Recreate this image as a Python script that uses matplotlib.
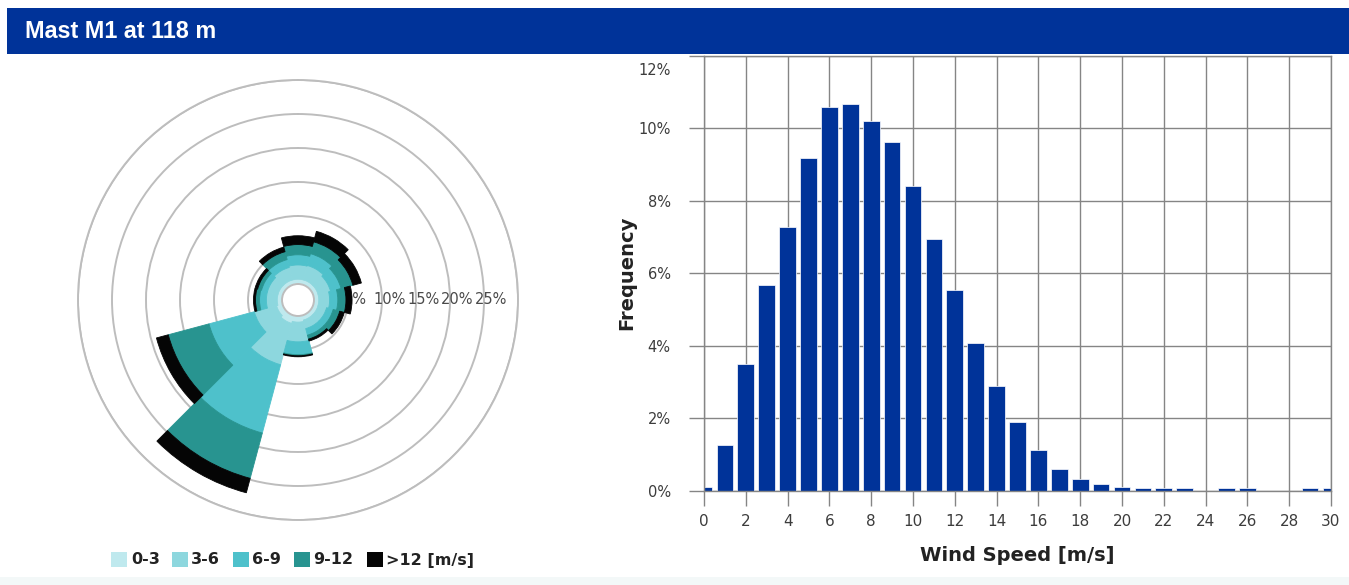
import numpy as np
import matplotlib
matplotlib.use("Agg")
import matplotlib.pyplot as plt
from matplotlib.patches import Rectangle
from matplotlib.transforms import ScaledTranslation
from matplotlib import font_manager

# ---------------- data ----------------
title = "Mast M1 at 118 m"
directions = [0, 30, 60, 90, 120, 150, 180, 210, 240, 270, 300, 330]
speed_bins = ["0-3", "3-6", "6-9", "9-12", ">12 [m/s]"]
rose_0_3 = [0.7, 0.7, 0.7, 0.7, 0.7, 0.7, 0.9, 1.2, 0.9, 0.7, 0.7, 0.7]
rose_3_6 = [2.1, 2.2, 1.9, 1.6, 1.3, 1.3, 2.9, 6.3, 3.4, 1.6, 1.6, 1.9]
rose_6_9 = [1.5, 1.8, 1.6, 1.2, 1.0, 1.0, 1.9, 10.4, 6.9, 1.0, 0.9, 1.2]
rose_9_12 = [1.5, 1.8, 1.8, 1.2, 1.0, 0.6, 0.15, 6.9, 6.2, 0.6, 0.6, 1.2]
rose_gt12 = [1.3, 1.6, 1.3, 0.9, 0.7, 0.3, 0.15, 2.2, 1.8, 0.3, 0.4, 0.7]
rose_rings = [5, 10, 15, 20, 25]

wind_speed = list(range(0, 31))
frequency = [0.1, 1.25, 3.5, 5.67, 7.28, 9.17, 10.58, 10.66, 10.21, 9.63,
             8.41, 6.94, 5.55, 4.07, 2.89, 1.89, 1.12, 0.6, 0.32, 0.18,
             0.1, 0.08, 0.08, 0.08, 0.0, 0.08, 0.08, 0.0, 0.0, 0.08, 0.08]
x_ticks = list(range(0, 31, 2))
y_ticks = [0, 2, 4, 6, 8, 10, 12]

# ---------------- style ----------------
bin_colors = ["#bfe9ee", "#8dd7de", "#4ec1cb", "#289490", "#050505"]
navy = "#003399"
W, H = 1349, 585

# Arial-like bold font for the header
title_font = None
for f in font_manager.findSystemFonts():
    if f.endswith("LiberationSans-Bold.ttf"):
        title_font = font_manager.FontProperties(fname=f, size=16.8)
        break
if title_font is None:
    title_font = font_manager.FontProperties(family="Roboto", weight="bold", size=16.8)

fig = plt.figure(figsize=(W / 100, H / 100), dpi=100)
fig.patch.set_facecolor("white")

# overlay in pixel coordinates for header / legend
bg = fig.add_axes([0, 0, 1, 1], zorder=-1)
bg.set_xlim(0, W)
bg.set_ylim(H, 0)
bg.axis("off")
bg.add_patch(Rectangle((7, 8), W - 7, 46, color=navy, lw=0))
bg.add_patch(Rectangle((0, 577), W, 8, color="#f3f8f8", lw=0))
bg.text(25, 31, title, color="white", fontproperties=title_font,
        va="center", ha="left")

# legend
sq_x = [111, 172, 233, 294, 367]
txt_x = [131, 191, 252, 313, 386]
for sx, tx, lab, col in zip(sq_x, txt_x, speed_bins, bin_colors):
    bg.add_patch(Rectangle((sx, 552), 16, 15, color=col, lw=0))
    bg.text(tx, 560, lab, fontsize=11.5, fontweight="bold", color="#222222",
            va="center", ha="left")

# ---------------- wind rose ----------------
cx, cy, R = 298, 300, 220
axr = fig.add_axes([(cx - R) / W, (H - cy - R) / H, 2 * R / W, 2 * R / H],
                   projection="polar")
axr.set_theta_zero_location("N")
axr.set_theta_direction(-1)
axr.set_ylim(0, 30)
axr.set_rorigin(-2.35)
axr.set_axisbelow(True)
axr.set_xticks([])
axr.set_yticks([0, 5, 10, 15, 20, 25, 30])
axr.set_yticklabels([])
axr.yaxis.grid(True, color="#bdbdbd", lw=1.4)
for sp in axr.spines.values():
    sp.set_color("#bdbdbd")
    sp.set_linewidth(1.4)

theta = np.deg2rad(directions)
width = np.deg2rad(30)
bottom = np.zeros(len(directions))
for vals, col in zip([rose_0_3, rose_3_6, rose_6_9, rose_9_12, rose_gt12], bin_colors):
    v = np.array(vals)
    axr.bar(theta, v, width=width, bottom=bottom, color=col, edgecolor=col,
            linewidth=0.6, zorder=2)
    bottom = bottom + v

for r in rose_rings:
    axr.text(np.pi / 2, r + 1.1, f"{r}%", ha="center", va="center",
             fontsize=10.5, color="#4a4a4a", zorder=1.5)

# ---------------- histogram ----------------
axb = fig.add_axes([704 / W, (H - 490.7) / H, 627 / W, 435 / H])
axb.bar(wind_speed, frequency, width=0.8, color=navy, edgecolor="white",
        linewidth=0.5, zorder=2)
axb.set_xlim(0, 30)
axb.set_ylim(0, 12)
axb.set_xticks(x_ticks)
axb.set_yticks(y_ticks)
axb.set_yticklabels([f"{v}%" for v in y_ticks])
axb.set_axisbelow(True)
axb.grid(True, color="#858585", lw=1.0)
for sp in axb.spines.values():
    sp.set_color("#858585")
    sp.set_linewidth(1.0)
axb.tick_params(axis="both", length=11, width=1.0, color="#858585",
                labelcolor="#3c3c3c")
axb.tick_params(axis="x", pad=6, labelsize=11)
axb.tick_params(axis="y", pad=13, labelsize=10.5)
# top tick label sits a little lower than its gridline, as in the original
top_lab = axb.get_yticklabels()[-1]
top_lab.set_transform(top_lab.get_transform() +
                      ScaledTranslation(0, -0.13, fig.dpi_scale_trans))
axb.set_ylabel("Frequency", fontsize=14, fontweight="bold", color="#222222")
axb.set_xlabel("Wind Speed [m/s]", fontsize=14, fontweight="bold", color="#222222")
axb.yaxis.set_label_coords(-0.108, 0.5)
axb.xaxis.set_label_coords(0.5, -0.127)

fig.savefig("out.png", dpi=100)
